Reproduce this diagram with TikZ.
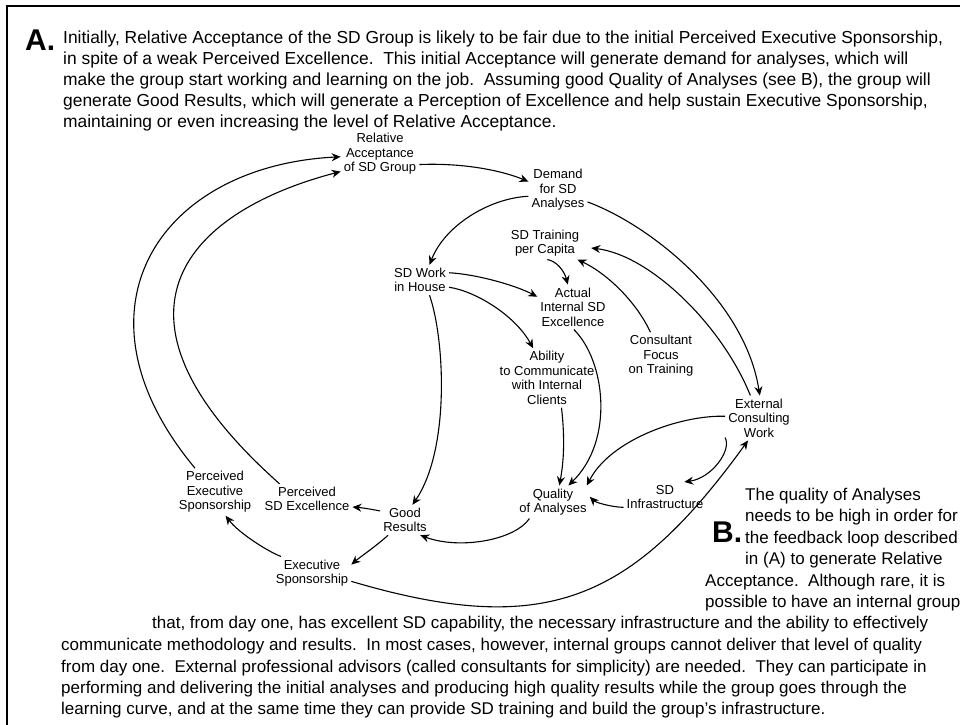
\documentclass[tikz,border=0pt]{standalone}
\usepackage{fontspec}
\setmainfont{Liberation Sans}
\usetikzlibrary{arrows.meta}

\begin{document}
\begin{tikzpicture}[x=1pt,y=-1pt,
  var/.style={align=center,font=\fontsize{13}{14.5}\selectfont,inner sep=3pt},
  link/.style={line width=1.1pt,-{Stealth[length=9pt,width=8pt]}},
  body/.style={anchor=base west,inner sep=0pt,font=\fontsize{17}{21}\selectfont},
  bodyA/.style={body,font=\fontsize{17.4}{21}\selectfont},
  tag/.style={anchor=base west,inner sep=0pt,font=\fontsize{30}{30}\selectfont\bfseries}]
\useasboundingbox (0,0) rectangle (960,724);
% page frame (runs past the right and bottom edges)
\draw[line width=1.2pt] (7,6) rectangle (990,760);

% paragraph A
\node[tag] (tagA) at (25,50) {A.};
\node[bodyA] (a1) at (63,43) {Initially, Relative Acceptance of the SD Group is likely to be fair due to the initial Perceived Executive Sponsorship,};
\node[bodyA] (a2) at (63,64) {in spite of a weak Perceived Excellence.\ \ This initial Acceptance will generate demand for analyses, which will};
\node[bodyA] (a3) at (63,85) {make the group start working and learning on the job.\ \ Assuming good Quality of Analyses (see B), the group will};
\node[bodyA] (a4) at (63,106) {generate Good Results, which will generate a Perception of Excellence and help sustain Executive Sponsorship,};
\node[bodyA] (a5) at (63,127) {maintaining or even increasing the level of Relative Acceptance.};

% variables
\node[var] (rel) at (380,154) {Relative\\Acceptance\\of SD Group};
\node[var] (dem) at (558,190) {Demand\\for SD\\Analyses};
\node[var] (train) at (545,243) {SD Training\\per Capita};
\node[var] (work) at (420,280) {SD Work\\in House};
\node[var] (actual) at (573,307) {Actual\\Internal SD\\Excellence};
\node[var] (focus) at (661,356) {Consultant\\Focus\\on Training};
\node[var] (ability) at (547,378) {Ability\\to Communicate\\with Internal\\Clients};
\node[var] (ecw) at (759,418) {External\\Consulting\\Work};
\node[var] (quality) at (553,502) {Quality\\of Analyses};
\node[var] (infra) at (665,497) {SD\\Infrastructure};
\node[var] (pes) at (215,492) {Perceived\\Executive\\Sponsorship};
\node[var] (pse) at (307,499) {Perceived\\SD Excellence};
\node[var] (good) at (405,520) {Good\\Results};
\node[var] (exec) at (312,573) {Executive\\Sponsorship};

% causal links
\draw[link] (pes.130) .. controls (64,311) and (158,166) .. (rel.184);
\draw[link] (pse.151) .. controls (84,310) and (193,210) .. (rel.204);
\draw[link] (rel.-15) .. controls (455,163) and (495,168) .. (dem.164);
\draw[link] (dem.192) .. controls (490,198) and (445,225) .. (work.58);
\draw[link] (dem.-22.5) .. controls (650,225) and (745,300) .. (ecw.88);
\draw[link] (train.-82) .. controls (556,261) and (564,270) .. (actual.103);
\draw[link,shorten >=9pt] (ecw.111) .. controls (722,325) and (650,255) .. (train.-6);
\draw[link] (focus.114.6) .. controls (638,305) and (610,275) .. (train.-27.8);
\draw[link] (work.14) .. controls (475,274) and (515,285) .. (actual.164.5);
\draw[link] (work.-14.5) .. controls (475,291) and (515,315) .. (ability.115.8);
\draw[link] (work.-58) .. controls (445,340) and (450,450) .. (good.64.8);
\draw[link] (actual.-88) .. controls (605,360) and (615,440) .. (quality.47.7);
\draw[link] (ability.-64) .. controls (564,430) and (565,455) .. (quality.69.4);
\draw[link] (ecw.177) .. controls (680,415) and (610,440) .. (quality.26.6);
\draw[link] (ecw.-150) .. controls (732,450) and (712,478) .. (infra.38);
\draw[link] (infra.-166) .. controls (610,507) and (595,502) .. (quality.8.9);
\draw[link] (quality.-145) .. controls (515,540) and (460,550) .. (good.-45);
\draw[link] (good.160) .. controls (375,510) and (365,508) .. (pse.-10.6);
\draw[link] (good.-138.6) .. controls (375,547) and (360,557) .. (exec.12.9);
\draw[link] (exec.152) .. controls (265,550) and (238,532) .. (pes.-66.5);
\draw[link] (exec.-12.4) .. controls (545,638.6) and (631,602) .. (ecw.-116.6);

% paragraph B
\node[tag] (tagB) at (712,542) {B.};
\node[body] (b1) at (745,500) {The quality of Analyses};
\node[body] (b2) at (745,521.5) {needs to be high in order for};
\node[body] (b3) at (745,543) {the feedback loop described};
\node[body] (b4) at (745,564.5) {in (A) to generate Relative};
\node[body] (b5) at (705,586) {Acceptance.\ \ Although rare, it is};
\node[body] (b6) at (705,607) {possible to have an internal group};
\node[body] (b7) at (152,628.5) {that, from day one, has excellent SD capability, the necessary infrastructure and the ability to effectively};
\node[body] (b8) at (61,650.5) {communicate methodology and results.\ \ In most cases, however, internal groups cannot deliver that level of quality};
\node[body] (b9) at (61,672) {from day one.\ \ External professional advisors (called consultants for simplicity) are needed.\ \ They can participate in};
\node[body] (b10) at (61,693) {performing and delivering the initial analyses and producing high quality results while the group goes through the};
\node[body] (b11) at (61,714) {learning curve, and at the same time they can provide SD training and build the group’s infrastructure.};
\end{tikzpicture}
\end{document}
